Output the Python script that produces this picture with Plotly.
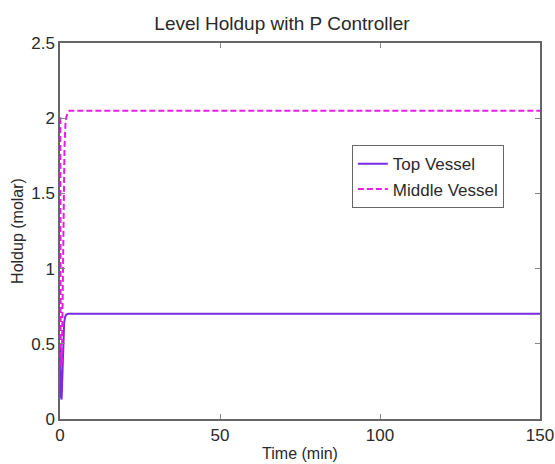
import plotly.graph_objects as go

# Data
top_time = [0, 0.1, 0.3, 0.5, 0.8, 1.0, 1.3, 1.6, 2.0, 2.5, 3.0, 4.0, 6.0, 150]
top_holdup = [0.5, 0.3, 0.15, 0.13, 0.3, 0.5, 0.64, 0.68, 0.695, 0.7, 0.7, 0.7, 0.7, 0.7]

mid_time = [0, 0.1, 0.2, 0.4, 0.6, 0.9, 1.1, 1.4, 1.7, 2.0, 2.5, 3.0, 4.0, 150]
mid_holdup = [2.0, 2.0, 0.6, 0.35, 0.4, 0.9, 1.4, 1.8, 1.96, 2.01, 2.04, 2.05, 2.05, 2.05]

x_ticks = [0, 50, 100, 150]
y_ticks = [0, 0.5, 1, 1.5, 2, 2.5]
y_tick_labels = ["0", "0.5", "1", "1.5", "2", "2.5"]

FONT = "Liberation Sans, Arial"
TXT = "#2a2a2a"

fig = go.Figure()
fig.add_trace(go.Scatter(x=top_time, y=top_holdup, mode="lines", name="Top Vessel",
                         line=dict(color="#7a2be0", width=2)))
fig.add_trace(go.Scatter(x=mid_time, y=mid_holdup, mode="lines", name="Middle Vessel",
                         line=dict(color="#e81ee8", width=2, dash="6px,3px")))

axis_common = dict(showline=True, linecolor="#666666", linewidth=1.5, mirror="ticks",
                   ticks="inside", ticklen=5, tickcolor="#888888", showgrid=False,
                   zeroline=False, automargin=False,
                   tickfont=dict(family=FONT, size=17, color=TXT))

fig.update_layout(
    width=555, height=464,
    margin=dict(l=60, r=15, t=43, b=45),
    paper_bgcolor="white", plot_bgcolor="white",
    title=dict(text="Level Holdup with P Controller", x=0.508, xanchor="center", y=0.949, yanchor="middle",
               font=dict(family=FONT, size=19, color=TXT)),
    xaxis=dict(range=[0, 150], tickvals=x_ticks,
               title=dict(text="Time (min)", standoff=4, font=dict(family=FONT, size=16, color=TXT)),
               **axis_common),
    yaxis=dict(range=[0, 2.5], tickvals=y_ticks, ticktext=y_tick_labels,
               title=dict(text="Holdup (molar)", standoff=4, font=dict(family=FONT, size=16, color=TXT)),
               **axis_common),
    legend=dict(x=0.608, y=0.728, xanchor="left", yanchor="top",
                bordercolor="#666666", borderwidth=1, bgcolor="white",
                font=dict(family=FONT, size=17, color=TXT),
                tracegroupgap=0, itemwidth=30),
    showlegend=True,
)

fig.write_html("out.html",
               config={"displayModeBar": False},
               post_script="document.body.style.margin='0px';document.body.style.overflow='hidden';")
